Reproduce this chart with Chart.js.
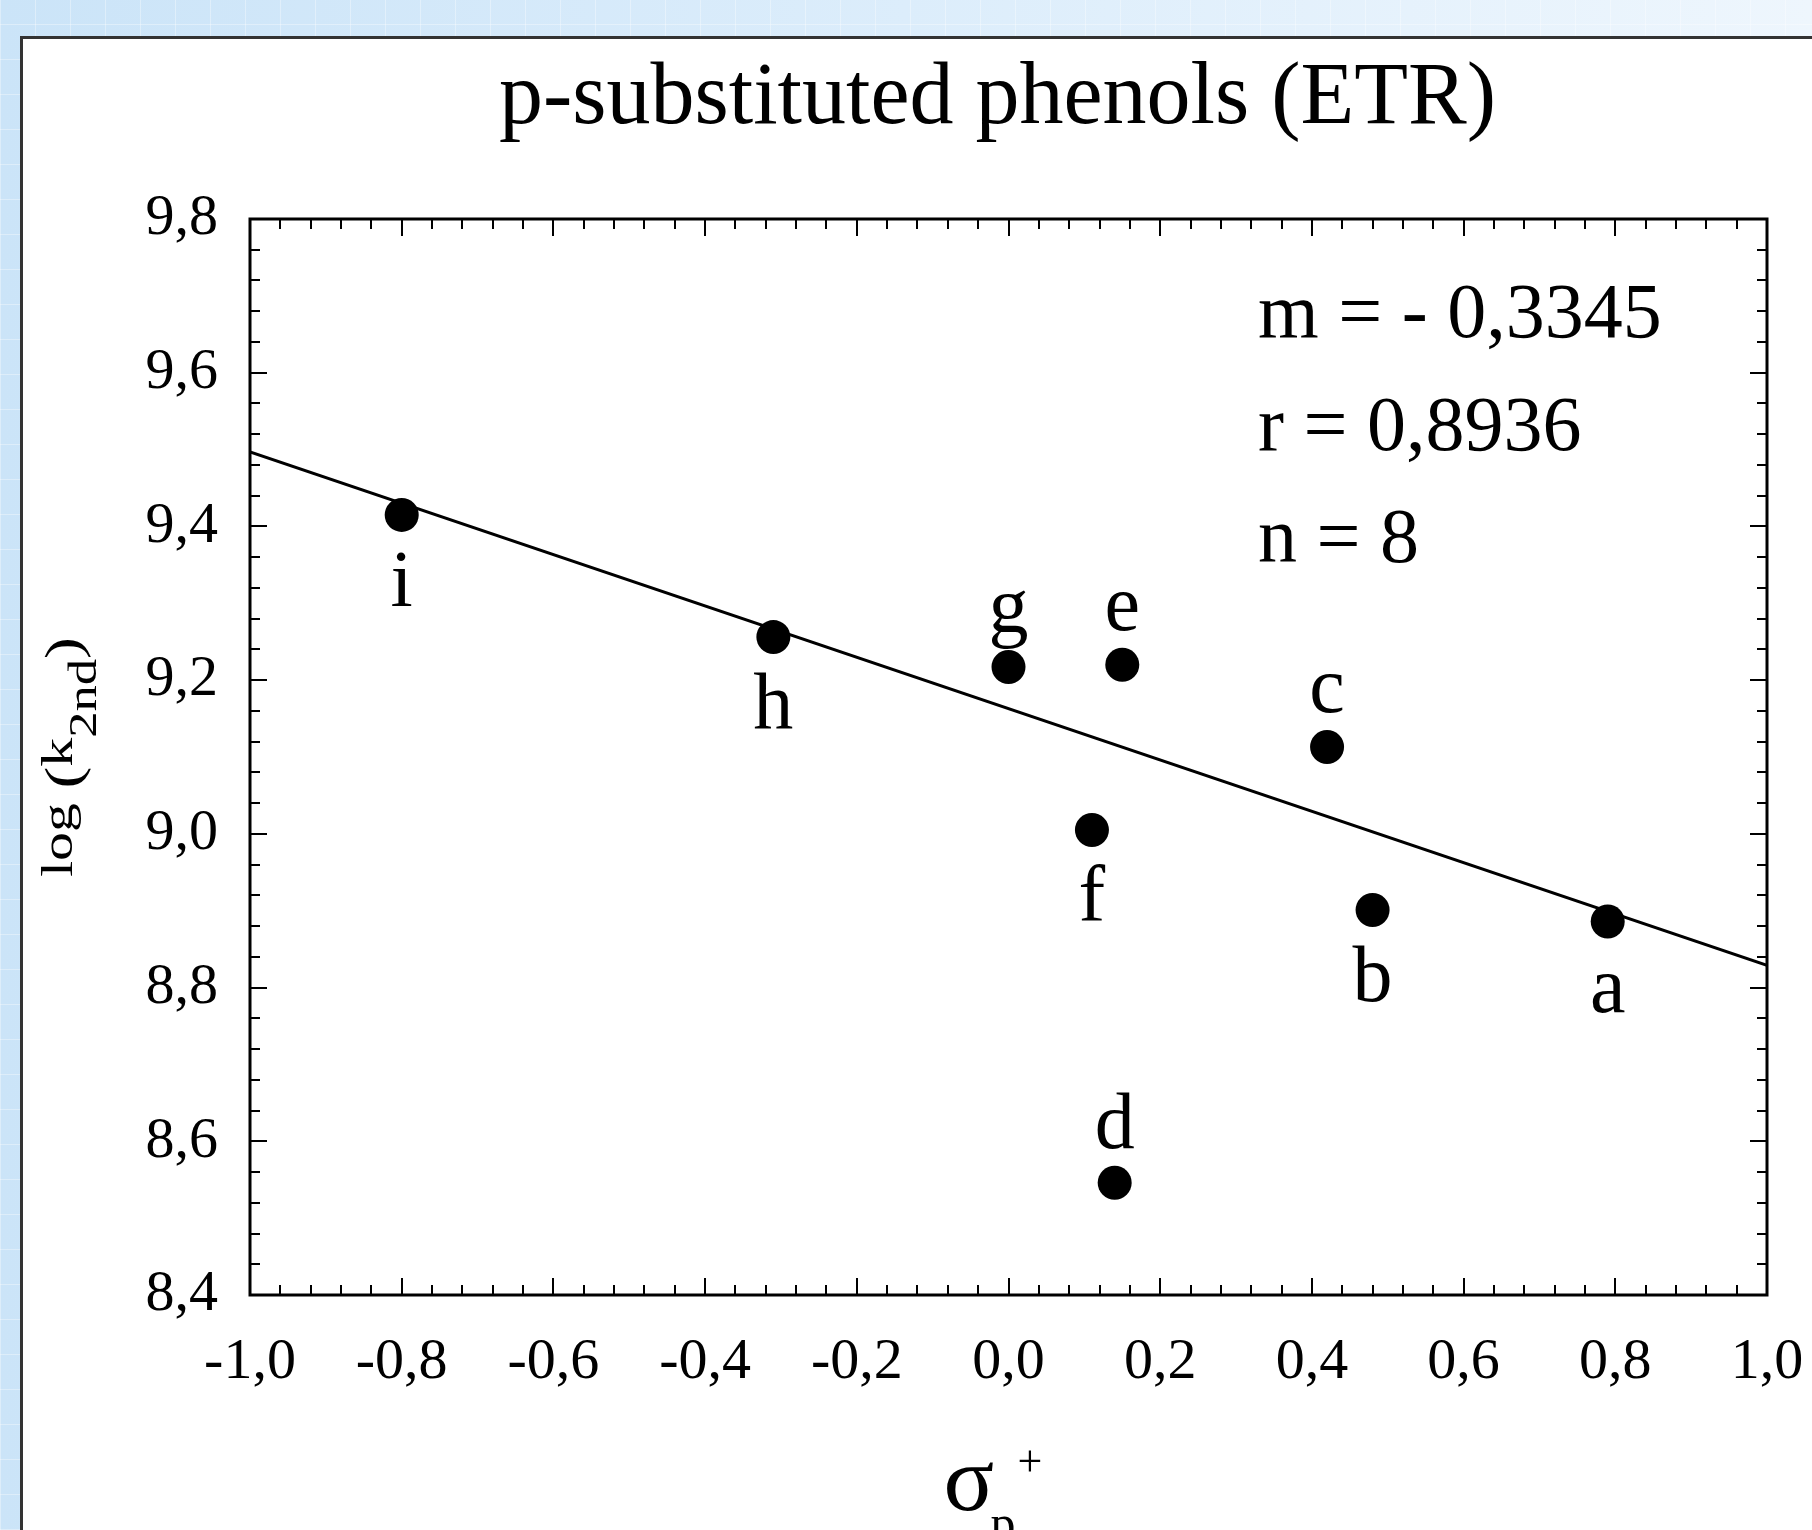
<!DOCTYPE html>
<html>
<head>
<meta charset="utf-8">
<title>p-substituted phenols (ETR)</title>
<script src="https://cdn.jsdelivr.net/npm/chart.js@4.4.0/dist/chart.umd.min.js"></script>
<style>
  html, body { margin: 0; padding: 0; }
  body {
    width: 1812px; height: 1530px; overflow: hidden; position: relative;
    background-color: #dcedfb;
    background-image:
      repeating-linear-gradient(0deg, rgba(255,255,255,0.35) 0 1px, transparent 1px 35px),
      repeating-linear-gradient(90deg, rgba(255,255,255,0.35) 0 1px, transparent 1px 35px),
      linear-gradient(90deg, #cbe4f8 0%, #dcedfb 50%, #eef6fd 100%);
  }
  #panel {
    position: absolute; left: 20px; top: 36px; width: 2000px; height: 2000px;
    background: #fff; border: 3px solid #333;
  }
  #chart { position: absolute; left: 0; top: 0; }
</style>
</head>
<body>
<div id="panel"></div>
<canvas id="chart" width="1812" height="1530"></canvas>
<script>
// substituents a..i : sigma_p+ and log(k2nd)
const pointLabels = ['a', 'b', 'c', 'd', 'e', 'f', 'g', 'h', 'i'];
const sigmaValues = [0.79, 0.48, 0.42, 0.14, 0.15, 0.11, 0.00, -0.31, -0.80];
const logKValues = [8.886, 8.901, 9.113, 8.546, 9.220, 9.005, 9.217, 9.256, 9.415];
const labelSide = ['below', 'below', 'above', 'above', 'above', 'below', 'above', 'below', 'below'];

// regression line end points
const fitSigma = [-1.0, 1.0];
const fitLogK = [9.497, 8.829];

// axis ranges
const xRange = [-1.0, 1.0];
const yRange = [8.4, 9.8];
const majorStep = 0.2;
const minorStep = 0.04;

const chartTitle = 'p-substituted phenols (ETR)';
const statsLines = ['m = - 0,3345', 'r = 0,8936', 'n = 8'];

const FONT = '"Liberation Serif", "Times New Roman", serif';

// decimal comma like the original
function fmt(v) {
  if (Math.abs(v) < 1e-9) v = 0;
  return v.toFixed(1).replace('.', ',');
}

const decorPlugin = {
  id: 'decor',
  afterDraw(chart) {
    const ctx = chart.ctx;
    const a = chart.chartArea;
    const xs = chart.scales.x;
    const ys = chart.scales.y;
    ctx.save();

    // frame around plot
    ctx.strokeStyle = '#000';
    ctx.lineWidth = 3;
    ctx.strokeRect(a.left, a.top, a.right - a.left, a.bottom - a.top);

    // inward ticks on all four sides
    ctx.lineWidth = 2;
    ctx.beginPath();
    const nx = Math.round((xs.max - xs.min) / minorStep);
    for (let i = 1; i < nx; i++) {
      const px = Math.round(xs.getPixelForValue(xs.min + i * minorStep));
      const len = i % 5 === 0 ? 17 : 10;
      ctx.moveTo(px, a.bottom); ctx.lineTo(px, a.bottom - len);
      ctx.moveTo(px, a.top); ctx.lineTo(px, a.top + len);
    }
    const ny = Math.round((ys.max - ys.min) / minorStep);
    for (let i = 1; i < ny; i++) {
      const py = Math.round(ys.getPixelForValue(ys.min + i * minorStep));
      const len = i % 5 === 0 ? 17 : 10;
      ctx.moveTo(a.left, py); ctx.lineTo(a.left + len, py);
      ctx.moveTo(a.right, py); ctx.lineTo(a.right - len, py);
    }
    ctx.stroke();

    ctx.fillStyle = '#000';

    // point letters
    ctx.font = '80px ' + FONT;
    ctx.textAlign = 'center';
    ctx.textBaseline = 'alphabetic';
    pointLabels.forEach((lab, i) => {
      const px = xs.getPixelForValue(sigmaValues[i]);
      const py = ys.getPixelForValue(logKValues[i]);
      const dy = labelSide[i] === 'above' ? -35 : 91;
      ctx.fillText(lab, px, py + dy);
    });

    // title
    ctx.font = '88px ' + FONT;
    ctx.fillText(chartTitle, (a.left + a.right) / 2 - 11, a.top - 96);

    // regression stats
    ctx.font = '78px ' + FONT;
    ctx.textAlign = 'left';
    statsLines.forEach((s, i) => {
      ctx.fillText(s, a.right - 509, a.top + 118 + i * 112.5);
    });

    // y axis title: log (k2nd), rotated
    ctx.save();
    ctx.translate(72, (a.top + a.bottom) / 2);
    ctx.rotate(-Math.PI / 2);
    const parts = [
      { t: 'log ', size: 44, dy: 0 },
      { t: '(', size: 50, dy: 8 },
      { t: 'k', size: 44, dy: 0 },
      { t: '2nd', size: 40, dy: 24 },
      { t: ')', size: 50, dy: 8 }
    ];
    let total = 0;
    parts.forEach(p => {
      ctx.font = p.size + 'px ' + FONT;
      p.w = ctx.measureText(p.t).width;
      total += p.w;
    });
    const stretch = 240 / total;
    ctx.scale(stretch, 1);
    let cx = -total / 2;
    parts.forEach(p => {
      ctx.font = p.size + 'px ' + FONT;
      ctx.fillText(p.t, cx, p.dy);
      cx += p.w;
    });
    ctx.restore();

    // x axis title: sigma_p +
    const mid = (a.left + a.right) / 2;
    ctx.font = '94px ' + FONT;
    ctx.fillText('σ', mid - 65, a.bottom + 215);
    ctx.font = '50px ' + FONT;
    ctx.fillText('p', mid - 18, a.bottom + 245);
    ctx.font = '44px ' + FONT;
    ctx.fillText('+', mid + 9, a.bottom + 181);

    ctx.restore();
  }
};

const ctx = document.getElementById('chart').getContext('2d');
new Chart(ctx, {
  type: 'scatter',
  data: {
    datasets: [
      {
        label: 'phenols',
        data: sigmaValues.map((s, i) => ({ x: s, y: logKValues[i] })),
        backgroundColor: '#000',
        borderWidth: 0,
        pointRadius: 17,
        pointHoverRadius: 17
      },
      {
        label: 'fit',
        data: fitSigma.map((s, i) => ({ x: s, y: fitLogK[i] })),
        showLine: true,
        borderColor: '#000',
        borderWidth: 3,
        pointRadius: 0,
        fill: false
      }
    ]
  },
  options: {
    responsive: false,
    animation: false,
    events: [],
    layout: { padding: { top: 219, right: 45, left: 0, bottom: 0 } },
    plugins: {
      legend: { display: false },
      tooltip: { enabled: false },
      title: { display: false }
    },
    scales: {
      x: {
        type: 'linear',
        min: xRange[0],
        max: xRange[1],
        border: { display: false },
        grid: { display: false, drawTicks: false },
        ticks: {
          stepSize: majorStep,
          padding: 33,
          maxRotation: 0,
          autoSkip: false,
          color: '#000',
          font: { family: FONT, size: 58 },
          callback: v => fmt(v)
        },
        afterFit: s => {
          s.height = 235;
          s.paddingLeft = 0;
          s.paddingRight = 0;
        }
      },
      y: {
        type: 'linear',
        min: yRange[0],
        max: yRange[1],
        border: { display: false },
        grid: { display: false, drawTicks: false },
        ticks: {
          stepSize: majorStep,
          padding: 32,
          autoSkip: false,
          color: '#000',
          font: { family: FONT, size: 58 },
          callback: v => fmt(v)
        },
        afterFit: s => {
          s.width = 250;
          s.paddingTop = 0;
          s.paddingBottom = 0;
        }
      }
    }
  },
  plugins: [decorPlugin]
});
</script>
</body>
</html>
